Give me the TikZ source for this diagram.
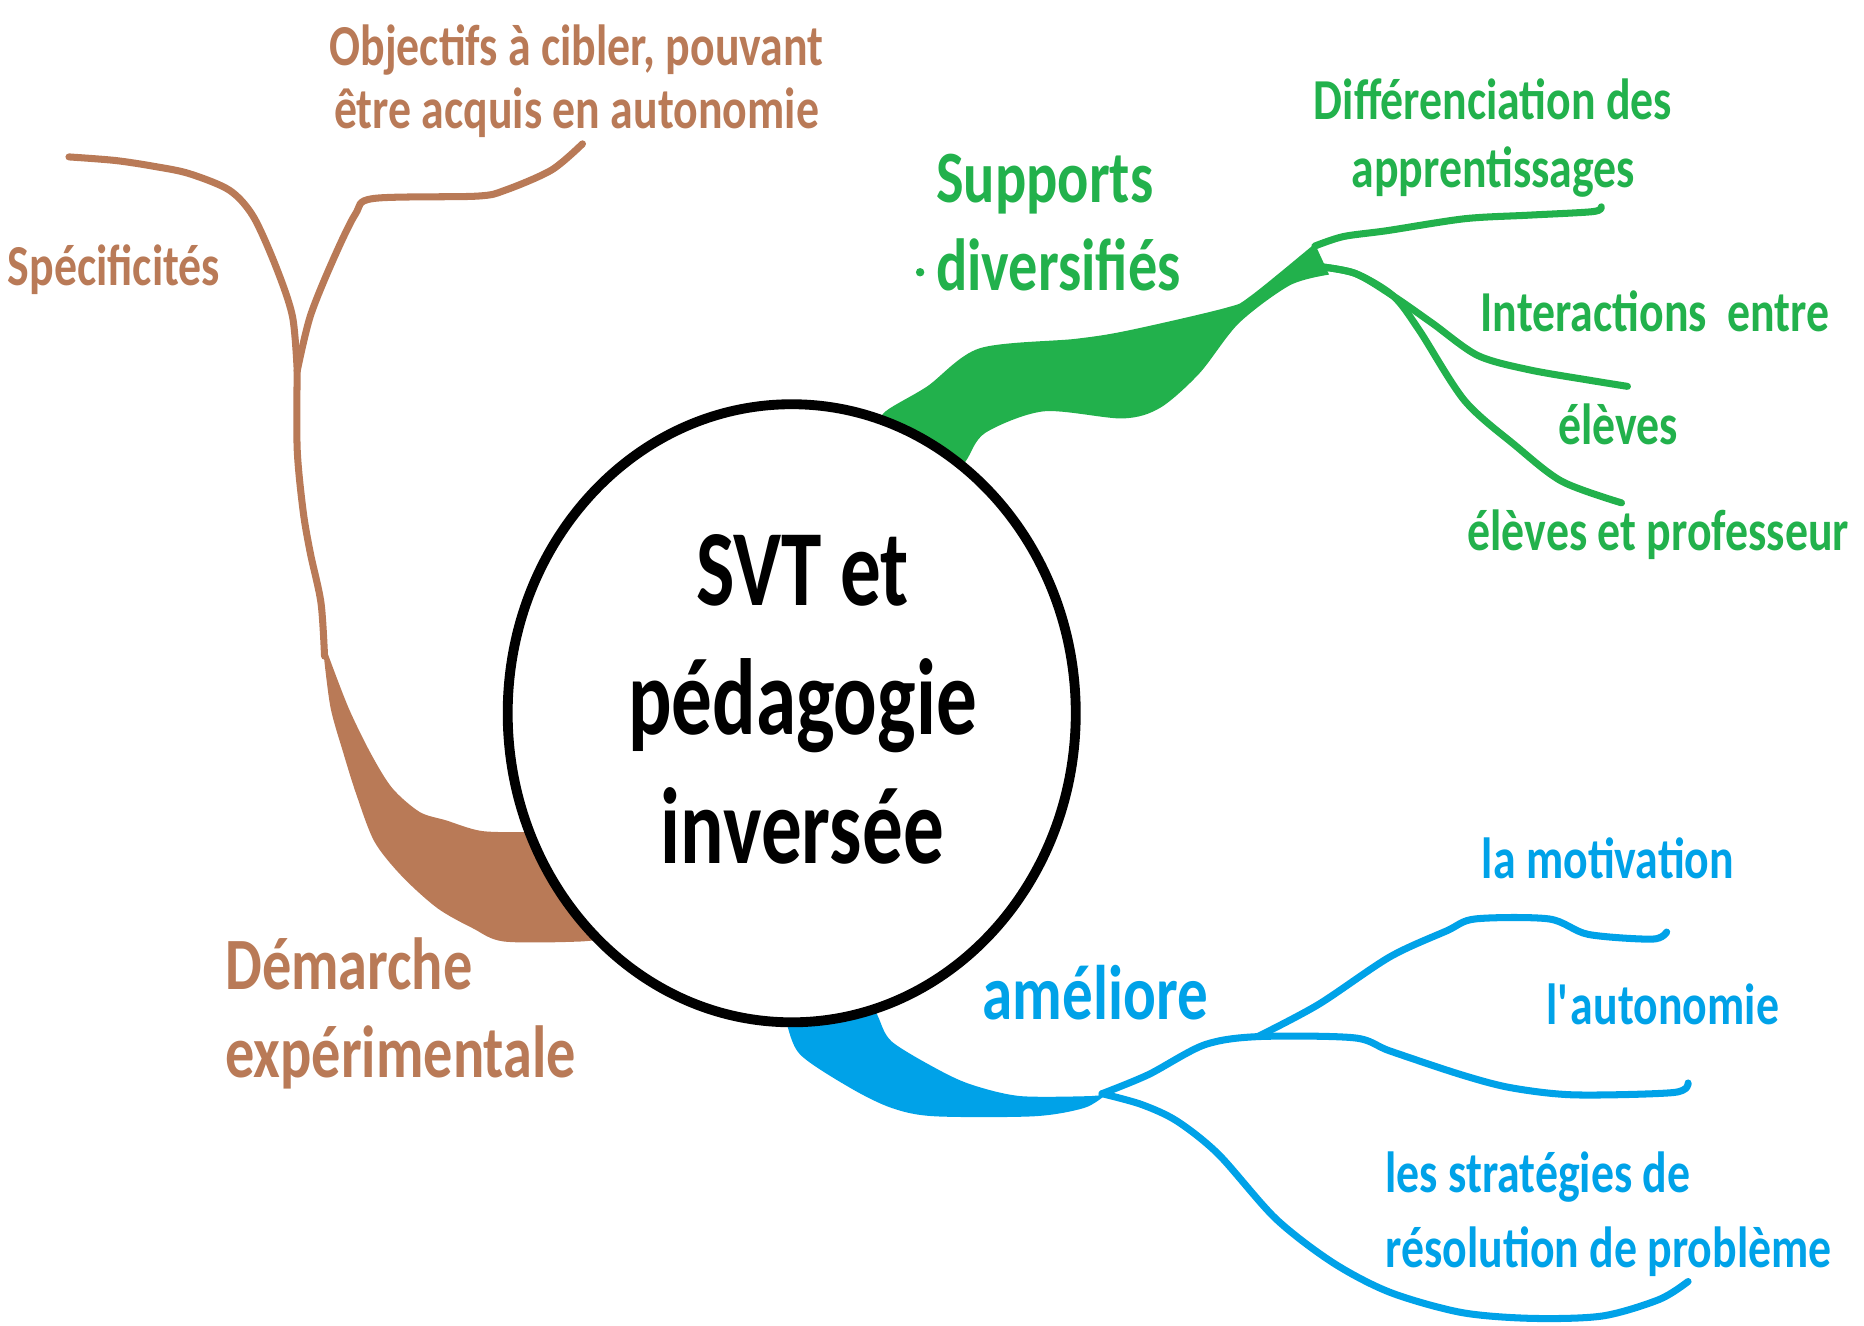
\documentclass[tikz,border=0pt]{standalone}
\usepackage{fontspec}
\newfontfamily\carlito{Carlito}[FakeStretch=0.79]
\newfontfamily\carlitohub{Carlito}[FakeStretch=0.75]
\usetikzlibrary{shapes.geometric}
\definecolor{paintbrown}{RGB}{185,122,87}
\definecolor{paintgreen}{RGB}{34,177,76}
\definecolor{paintblue}{RGB}{0,162,232}

\begin{document}
\begin{tikzpicture}[x=0.011888cm, y=-0.011888cm,
    leaf/.style={font=\carlito\bfseries\fontsize{16.5}{#1}\selectfont, inner sep=0pt, anchor=base west, align=left},
    leaf/.default=18,
    big/.style={font=\carlito\bfseries\fontsize{21}{25}\selectfont, inner sep=0pt, anchor=base west, align=left},
    branch/.style={line width=2pt, line cap=round, line join=round}]
    \useasboundingbox (0,0) rectangle (1568,1115);

    % ribbons first, the circle covers their ends
    \fill[paintbrown] plot[smooth] coordinates {(272,548) (278,595) (289,634) (300,669) (315,708) (338,737) (368,764) (398,781) (424,792) (488,792) (520,788)}
        -- plot[smooth] coordinates {(470,700) (445,700) (405,699) (375,690) (353,683) (330,663) (312,634) (293,595) (275,548)} -- cycle;
    \fill[paintgreen] plot[smooth] coordinates {(735,362) (745,346) (780,325) (824,293) (905,285) (949,278) (1031,259) (1052,249) (1106,205)}
        -- plot[smooth] coordinates {(1118,231) (1085,240) (1042,272) (1009,314) (976,343) (944,352) (878,346) (829,364) (813,387) (800,405)} -- cycle;
    \fill[paintblue] plot[smooth] coordinates {(655,845) (661,859) (673,887) (715,915) (750,932) (786,939) (870,939) (912,932) (930,921)}
        -- plot[smooth] coordinates {(918,922) (858,922) (816,912) (786,898) (750,876) (739,856) (733,840)} -- cycle;

    \node[ellipse, draw=black, line width=2.8pt, fill=white, inner sep=0pt,
        minimum width=5.68cm, minimum height=6.18cm] (svt) at (666,600) {};
    \node[font=\carlitohub\bfseries\fontsize{30.8}{36.7}\selectfont, inner sep=0pt, anchor=base, align=center]
        (svttext) at (675,726) {SVT et\\pédagogie\\inversée};

    \coordinate (brownfork) at (250,312);
    \coordinate (greenfork) at (1106,207);
    \coordinate (bluefork) at (927,920);
    \coordinate (bluesplit) at (1058,872);

    \draw[branch, paintbrown] plot[smooth] coordinates {(273,552) (270,507) (261,465) (255,430) (250,378) (brownfork)};
    \draw[branch, paintbrown] plot[smooth] coordinates {(brownfork) (246,266) (232,224) (213,182) (193,160) (159,146) (130,140) (97,135) (58,132)};
    \draw[branch, paintbrown] plot[smooth] coordinates {(brownfork) (261,266) (280,219) (299,180) (314,167) (401,165) (425,160) (464,143) (490,121)};

    \draw[branch, paintgreen] plot[smooth] coordinates {(greenfork) (1130,199) (1167,194) (1232,184) (1286,181) (1340,178) (1347,174)};
    \draw[branch, paintgreen] plot[smooth] coordinates {(1108,224) (1140,230) (1172,249) (1205,272) (1243,299) (1286,311) (1338,320) (1369,325)};
    \draw[branch, paintgreen] plot[smooth] coordinates {(1108,224) (1140,230) (1172,249) (1194,278) (1232,337) (1275,375) (1314,405) (1364,423)};
    \fill[paintgreen] (774,229) circle[radius=1.2pt];

    \draw[branch, paintblue] plot[smooth] coordinates {(bluefork) (966,904) (1013,879) (bluesplit) (1139,873) (1169,884) (1229,904) (1271,915) (1324,921) (1408,919) (1420,911)};
    \draw[branch, paintblue] plot[smooth] coordinates {(bluesplit) (1109,845) (1169,805) (1217,783) (1241,773) (1303,773) (1336,786) (1390,790) (1402,784)};
    \draw[branch, paintblue] plot[smooth] coordinates {(bluefork) (960,929) (990,943) (1025,971) (1073,1025) (1121,1062) (1169,1087) (1229,1104) (1288,1109) (1348,1107) (1396,1093) (1420,1078)};

    \node[leaf, paintbrown, anchor=base, align=center] (objectifs) at (485,108) {Objectifs à cibler, pouvant\\être acquis en autonomie};
    \node[leaf, paintbrown] (specificites) at (6,240) {Spécificités};
    \node[big, paintbrown] (demarche) at (189,906) {Démarche\\expérimentale};

    \node[big, paintgreen] (supports) at (787,244) {Supports\\diversifiés};
    \node[leaf=19.4, paintgreen, anchor=base, align=center] (differenciation) at (1256,158) {Différenciation des\\apprentissages};
    \node[leaf, paintgreen] (interactions) at (1245,279) {Interactions\ \ entre};
    \node[leaf, paintgreen, anchor=base] (eleves) at (1361,374) {élèves};
    \node[leaf, paintgreen] (professeur) at (1234,463) {élèves et professeur};

    \node[big, paintblue, font=\carlito\bfseries\fontsize{22}{26}\selectfont] (ameliore) at (826,858) {améliore};
    \node[leaf, paintblue] (motivation) at (1246,739) {la motivation};
    \node[leaf, paintblue] (autonomie) at (1300,862) {l\textquotesingle autonomie};
    \node[leaf=21.4, paintblue] (strategies) at (1165,1066) {les stratégies de\\résolution de problème};
\end{tikzpicture}
\end{document}
